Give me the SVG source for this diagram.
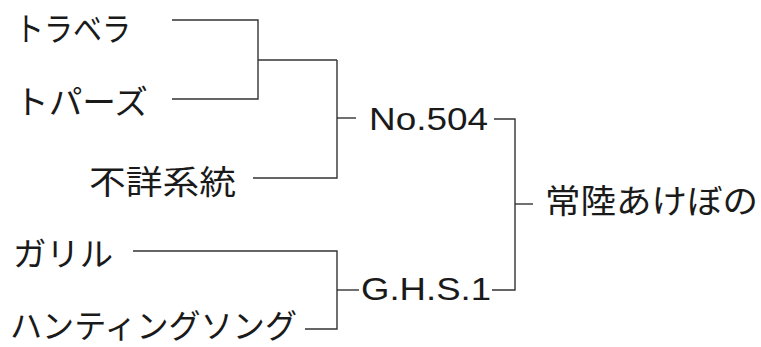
<svg xmlns="http://www.w3.org/2000/svg" width="761" height="347" viewBox="0 0 761 347">
<style>
.jp{font-family:"Noto Sans CJK JP","Liberation Sans",sans-serif;font-size:33px;fill:#1a1a1a}
.en{font-family:"Liberation Sans",Arial,sans-serif;font-size:32px;fill:#1a1a1a}
.c{fill:none;stroke:#333;stroke-width:1.4}
</style>
<rect width="761" height="347" fill="#fff"/>
<g id="connectors" class="c">
<polyline points="172,20 258,20 258,99 172,99"/>
<line x1="258" y1="60" x2="337" y2="60"/>
<polyline points="253,178 337,178 337,60"/>
<line x1="337" y1="118" x2="356" y2="118"/>
<polyline points="494,119 515,119 515,290 492,290"/>
<line x1="515" y1="204" x2="533" y2="204"/>
<polyline points="133,251 337,251 337,329 305,329"/>
<line x1="337" y1="290" x2="359" y2="290"/>
</g>
<g id="n-travera"><text class="jp" x="15" y="41" textLength="116" lengthAdjust="spacingAndGlyphs">トラベラ</text></g>
<g id="n-topaz"><text class="jp" x="15" y="114" textLength="133" lengthAdjust="spacingAndGlyphs">トパーズ</text></g>
<g id="n-unknown"><text class="jp" x="89" y="194" textLength="147" lengthAdjust="spacingAndGlyphs">不詳系統</text></g>
<g id="n-no504"><text class="en" x="369" y="130" textLength="119" lengthAdjust="spacingAndGlyphs">No.504</text></g>
<g id="n-garil"><text class="jp" x="13" y="266" textLength="100" lengthAdjust="spacingAndGlyphs">ガリル</text></g>
<g id="n-huntingsong"><text class="jp" x="10" y="338" font-size="32" textLength="287" lengthAdjust="spacingAndGlyphs">ハンティングソング</text></g>
<g id="n-ghs1"><text class="en" x="361" y="300" textLength="130" lengthAdjust="spacingAndGlyphs">G.H.S.1</text></g>
<g id="n-hitachi"><text class="jp" x="545" y="213" textLength="213" lengthAdjust="spacingAndGlyphs">常陸あけぼの</text></g>
</svg>
